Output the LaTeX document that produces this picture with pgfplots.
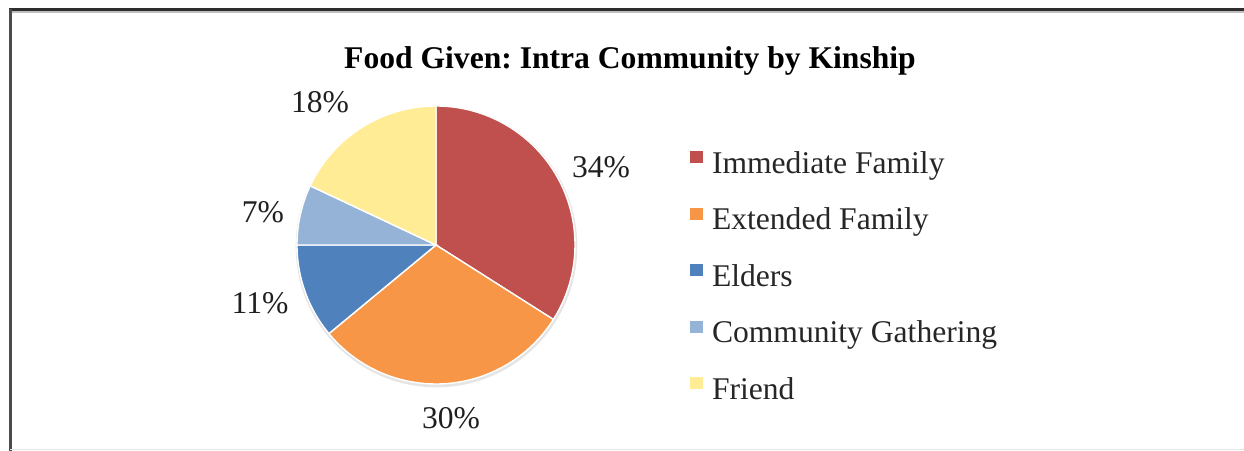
\documentclass[border=0pt]{standalone}
\usepackage{fontspec}
\setmainfont{Liberation Serif}
\usepackage{pgfplots}
\usepackage{pgfplotstable}
\pgfplotsset{compat=1.18}
\frenchspacing

\definecolor{immcol}{HTML}{C0504D}
\definecolor{extcol}{HTML}{F79646}
\definecolor{eldcol}{HTML}{4F81BD}
\definecolor{comcol}{HTML}{95B3D7}
\definecolor{frdcol}{HTML}{FFEC94}

\newcommand\chartfont{\fontsize{15.8bp}{19bp}\selectfont}

% share in percent, slice colour, label position (pixels from top left)
\pgfplotstableread{
share colour lx  ly
34    immcol 601 177
30    extcol 451 428
11    eldcol 260 313
7     comcol 263 222
18    frdcol 320 112
}\piedata

\begin{document}
\begin{tikzpicture}[font=\chartfont]
\useasboundingbox (0,0) rectangle (622bp,225.5bp);
\begin{axis}[
  scale only axis,
  width=622bp, height=225.5bp,
  xmin=0, xmax=1244, ymin=0, ymax=451,
  y dir=reverse,
  hide axis,
  clip=false,
  legend image code/.code={\fill[#1, draw=none] (0bp,5bp) rectangle (6.5bp,11bp);},
  legend style={
    at={(axis cs:690,151)}, anchor=north west,
    draw=none, fill=none, inner sep=0pt,
    column sep=4.3bp, row sep=14.25bp,
    cells={anchor=base west},
    nodes={inner sep=0pt, text height=11bp, text depth=3bp,
           text=black!85, font=\chartfont},
  },
]
\addlegendimage{fill=immcol}
\addlegendentry{Immediate Family}
\addlegendimage{fill=extcol}
\addlegendentry{Extended Family}
\addlegendimage{fill=eldcol}
\addlegendentry{Elders}
\addlegendimage{fill=comcol}
\addlegendentry{Community Gathering}
\addlegendimage{fill=frdcol}
\addlegendentry{Friend}

% frame: dark top and left edges, faint bottom edge
\draw[line width=1.5bp, black!82] (axis cs:9,10) -- (axis cs:1250,10);
\draw[line width=1.0bp, black!25] (axis cs:9,12.5) -- (axis cs:1250,12.5);
\draw[line width=1.5bp, black!70] (axis cs:10.5,9) -- (axis cs:10.5,451);
\draw[line width=0.6bp, black!10] (axis cs:10,449.5) -- (axis cs:1250,449.5);

\node[anchor=base, font=\chartfont\bfseries] at (axis cs:630,68)
  {Food Given: Intra Community by Kinship};

% pie slices, clockwise from twelve o'clock
\pgfplotsextra{%
  \fill[black!10] (axis cs:436.5,246.5) circle[radius=70.4bp];
  \gdef\pieang{90}%
  \foreach \i in {0,...,4}{%
    \pgfplotstablegetelem{\i}{share}\of\piedata
    \edef\v{\pgfplotsretval}%
    \pgfmathsetmacro\angend{\pieang-3.6*\v}%
    \pgfplotstablegetelem{\i}{colour}\of\piedata
    \edef\slicecol{\pgfplotsretval}%
    \pgfplotstablegetelem{\i}{lx}\of\piedata
    \edef\lx{\pgfplotsretval}%
    \pgfplotstablegetelem{\i}{ly}\of\piedata
    \edef\ly{\pgfplotsretval}%
    \filldraw[fill=\slicecol, draw=white, line width=0.7bp]
      (axis cs:436,245) -- ++(\pieang:69.5bp)
      arc[start angle=\pieang, end angle=\angend, radius=69.5bp] -- cycle;
    \node[anchor=base, text=black!88] at (axis cs:\lx,\ly) {\v\%};
    \xdef\pieang{\angend}%
  }%
}
\end{axis}
\end{tikzpicture}
\end{document}
